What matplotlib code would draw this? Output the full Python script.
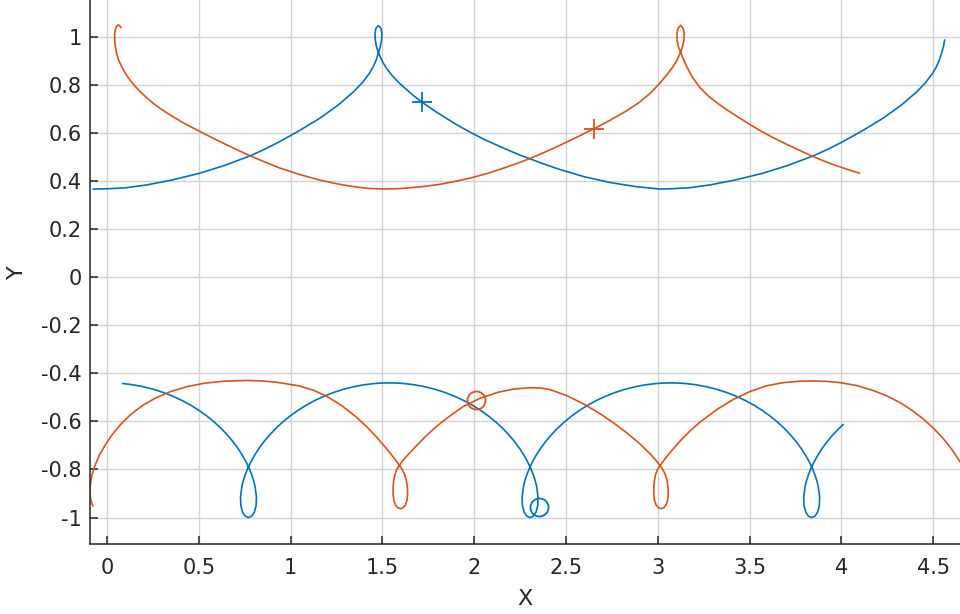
import matplotlib
matplotlib.use("Agg")
import matplotlib.pyplot as plt

# upper paths (blue and orange)
top_blue_x = [-0.075, 0.0, 0.1, 0.216, 0.35, 0.501, 0.64, 0.779, 0.86, 0.942, 1.05, 1.16, 1.26, 1.342,
              1.39, 1.427, 1.45, 1.466, 1.478,
              1.488, 1.495, 1.497, 1.492, 1.478, 1.464, 1.459, 1.461, 1.467, 1.478,
              1.49, 1.505, 1.523, 1.545, 1.568, 1.59, 1.614, 1.665, 1.717, 1.8, 1.886, 1.94, 1.999,
              2.05, 2.104, 2.175, 2.249, 2.32, 2.39, 2.467, 2.6, 2.74, 2.88, 3.012,
              3.068, 3.168, 3.284, 3.418, 3.569, 3.708, 3.847, 3.928, 4.01, 4.118, 4.228, 4.328,
              4.41, 4.458, 4.495, 4.518, 4.534, 4.546, 4.556, 4.562]
top_blue_y = [0.366, 0.367, 0.371, 0.383, 0.403, 0.431, 0.464, 0.504, 0.532, 0.564, 0.61, 0.661, 0.716,
              0.77, 0.808, 0.845, 0.875, 0.903, 0.933,
              0.958, 0.985, 1.012, 1.034, 1.046, 1.034, 1.012, 0.985, 0.958, 0.933,
              0.912, 0.889, 0.867, 0.845, 0.825, 0.808, 0.791, 0.757, 0.726, 0.683, 0.642, 0.618,
              0.594, 0.574, 0.555, 0.531, 0.507, 0.487, 0.467, 0.447, 0.417, 0.393, 0.376, 0.366,
              0.367, 0.371, 0.383, 0.403, 0.431, 0.464, 0.504, 0.532, 0.564, 0.61, 0.661, 0.716,
              0.77, 0.808, 0.845, 0.875, 0.903, 0.933, 0.958, 0.985]

top_orange_x = [0.074, 0.068, 0.06, 0.051, 0.045, 0.041, 0.041, 0.045, 0.052, 0.062, 0.08, 0.1, 0.125,
                0.15, 0.18, 0.215, 0.252, 0.295, 0.343, 0.42, 0.501, 0.555, 0.615, 0.7, 0.779, 0.86,
                0.942, 1.05, 1.16, 1.25, 1.342, 1.42, 1.505, 1.6, 1.705, 1.8, 1.886, 1.98, 2.068,
                2.16, 2.249, 2.32, 2.395, 2.467, 2.56, 2.653, 2.745, 2.831, 2.9, 2.958, 3.005, 3.048,
                3.078, 3.103, 3.124,
                3.135, 3.142, 3.144, 3.138, 3.124, 3.11, 3.104, 3.105, 3.111, 3.124,
                3.135, 3.145, 3.157, 3.19, 3.23, 3.28, 3.339, 3.395, 3.448, 3.5, 3.557, 3.625,
                3.693, 3.76, 3.829, 3.9, 3.965, 4.035, 4.098]
top_orange_y = [1.038, 1.046, 1.048, 1.043, 1.03, 1.01, 0.985, 0.958, 0.93, 0.903, 0.874, 0.846, 0.819,
                0.795, 0.771, 0.746, 0.722, 0.698, 0.674, 0.639, 0.607, 0.586, 0.563, 0.532, 0.504,
                0.478, 0.453, 0.426, 0.403, 0.388, 0.376, 0.369, 0.366, 0.368, 0.375, 0.384, 0.396,
                0.412, 0.43, 0.453, 0.477, 0.498, 0.523, 0.548, 0.582, 0.617, 0.654, 0.692, 0.727,
                0.764, 0.801, 0.84, 0.87, 0.899, 0.935,
                0.96, 0.985, 1.012, 1.034, 1.047, 1.034, 1.012, 0.985, 0.96, 0.935,
                0.914, 0.896, 0.875, 0.829, 0.787, 0.7495, 0.715, 0.686, 0.66, 0.635, 0.609, 0.581,
                0.555, 0.531, 0.507, 0.484, 0.465, 0.447, 0.432]

# lower paths
low_blue_x = [0.0847, 0.1417, 0.198, 0.2532, 0.3069, 0.3589, 0.4091, 0.4568, 0.5022, 0.5448, 0.5845,
              0.6212, 0.6548, 0.6851, 0.7122, 0.7359, 0.7563, 0.7735, 0.7874, 0.7982, 0.806, 0.8135,
              0.8115, 0.802, 0.7873, 0.77, 0.7527, 0.738, 0.7285, 0.7265, 0.734, 0.7418, 0.7526,
              0.7665, 0.7837, 0.8041, 0.8278, 0.8549, 0.8852, 0.9188, 0.9555, 0.9952, 1.0378,
              1.0832, 1.1309, 1.1811, 1.2331, 1.2868, 1.342, 1.3983, 1.4553, 1.4956, 1.5369,
              1.5784, 1.6187, 1.6757, 1.732, 1.7872, 1.8409, 1.8929, 1.9431, 1.9908, 2.0362, 2.0788,
              2.1185, 2.1552, 2.1888, 2.2191, 2.2462, 2.2699, 2.2903, 2.3075, 2.3214, 2.3322, 2.34,
              2.3475, 2.3455, 2.336, 2.3213, 2.304, 2.2867, 2.272, 2.2625, 2.2605, 2.268, 2.2758,
              2.2866, 2.3005, 2.3177, 2.3381, 2.3618, 2.3889, 2.4192, 2.4528, 2.4895, 2.5292,
              2.5718, 2.6172, 2.6649, 2.7151, 2.7671, 2.8208, 2.876, 2.9323, 2.9893, 3.0296, 3.0709,
              3.1124, 3.1527, 3.2097, 3.266, 3.3212, 3.3749, 3.4269, 3.4771, 3.5248, 3.5702, 3.6128,
              3.6525, 3.6892, 3.7228, 3.7531, 3.7802, 3.8039, 3.8243, 3.8415, 3.8554, 3.8662, 3.874,
              3.8815, 3.8795, 3.87, 3.8553, 3.838, 3.8207, 3.806, 3.7965, 3.7945, 3.802, 3.8098,
              3.8206, 3.8345, 3.8517, 3.8721, 3.8958, 3.9229, 3.9532, 3.9868, 4.009]
low_blue_y = [-0.4428, -0.4481, -0.4562, -0.4669, -0.4801, -0.4957, -0.5135, -0.5334, -0.5552, -0.5787,
              -0.6035, -0.6295, -0.6564, -0.6839, -0.7118, -0.7398, -0.7676, -0.7949, -0.8215, -0.847,
              -0.8713, -0.9151, -0.9511, -0.9779, -0.9944, -1.0, -0.9944, -0.9779, -0.9511, -0.9151,
              -0.8713, -0.847, -0.8215, -0.7949, -0.7676, -0.7398, -0.7118, -0.6839, -0.6564, -0.6295,
              -0.6035, -0.5787, -0.5552, -0.5334, -0.5135, -0.4957, -0.4801, -0.4669, -0.4562,
              -0.4481, -0.4428, -0.4407, -0.44,
              -0.4407, -0.4428, -0.4481, -0.4562, -0.4669, -0.4801, -0.4957, -0.5135, -0.5334, -0.5552,
              -0.5787, -0.6035, -0.6295, -0.6564, -0.6839, -0.7118, -0.7398, -0.7676, -0.7949, -0.8215,
              -0.847, -0.8713, -0.9151, -0.9511, -0.9779, -0.9944, -1.0, -0.9944, -0.9779, -0.9511,
              -0.9151, -0.8713, -0.847, -0.8215, -0.7949, -0.7676, -0.7398, -0.7118, -0.6839, -0.6564,
              -0.6295, -0.6035, -0.5787, -0.5552, -0.5334, -0.5135, -0.4957, -0.4801, -0.4669,
              -0.4562, -0.4481, -0.4428, -0.4407, -0.44,
              -0.4407, -0.4428, -0.4481, -0.4562, -0.4669, -0.4801, -0.4957, -0.5135, -0.5334, -0.5552,
              -0.5787, -0.6035, -0.6295, -0.6564, -0.6839, -0.7118, -0.7398, -0.7676, -0.7949, -0.8215,
              -0.847, -0.8713, -0.9151, -0.9511, -0.9779, -0.9944, -1.0, -0.9944, -0.9779, -0.9511,
              -0.9151, -0.8713, -0.847, -0.8215, -0.7949, -0.7676, -0.7398, -0.7118, -0.6839, -0.6564,
              -0.6295, -0.614]

low_orange_x = [-0.078, -0.087, -0.093, -0.093, -0.089, -0.08, -0.065, -0.042, -0.011, 0.026, 0.071,
                0.125, 0.189, 0.261, 0.343, 0.434, 0.525, 0.634, 0.761, 0.84, 0.92, 1.042, 1.124,
                1.196, 1.278, 1.36, 1.414, 1.469, 1.532, 1.566, 1.592,
                1.607, 1.62, 1.63, 1.636, 1.637, 1.633, 1.624, 1.611, 1.597, 1.583, 1.57, 1.562,
                1.558, 1.558, 1.561, 1.567, 1.577, 1.592,
                1.607, 1.625, 1.65, 1.687, 1.741, 1.796, 1.868, 1.941, 2.032, 2.13, 2.213, 2.304,
                2.36, 2.413, 2.504, 2.594, 2.685, 2.758, 2.831, 2.903, 2.958, 2.994, 3.012,
                3.027, 3.04, 3.05, 3.056, 3.057, 3.053, 3.044, 3.031, 3.017, 3.003, 2.99, 2.982,
                2.978, 2.978, 2.981, 2.987, 2.997, 3.012,
                3.028, 3.045, 3.075, 3.121, 3.175, 3.23, 3.321, 3.411, 3.502, 3.593, 3.683, 3.775,
                3.85, 3.92, 3.992, 4.083, 4.174, 4.247, 4.319, 4.383, 4.446, 4.501, 4.555, 4.601,
                4.646]
low_orange_y = [-0.951, -0.934, -0.906, -0.879, -0.851, -0.816, -0.782, -0.74, -0.699, -0.657, -0.615,
                -0.574, -0.536, -0.504, -0.477, -0.456, -0.442, -0.433, -0.43, -0.432, -0.437, -0.452,
                -0.4705, -0.4956, -0.5344, -0.5838, -0.6222, -0.6662, -0.7225, -0.7555, -0.783,
                -0.8, -0.82, -0.845, -0.875, -0.905, -0.93, -0.949, -0.96, -0.963, -0.959, -0.947,
                -0.928, -0.903, -0.875, -0.848, -0.823, -0.802, -0.783,
                -0.767, -0.75, -0.73, -0.7, -0.658, -0.62, -0.577, -0.538, -0.504, -0.479, -0.466,
                -0.46, -0.4615, -0.468, -0.493, -0.527, -0.568, -0.606, -0.648, -0.694, -0.735,
                -0.766, -0.784,
                -0.8, -0.82, -0.845, -0.875, -0.905, -0.93, -0.949, -0.96, -0.963, -0.959, -0.947,
                -0.928, -0.903, -0.875, -0.848, -0.823, -0.802, -0.784,
                -0.767, -0.75, -0.722, -0.682, -0.64, -0.603, -0.551, -0.509, -0.476, -0.452, -0.439,
                -0.433, -0.432, -0.434, -0.439, -0.451, -0.472, -0.494, -0.522, -0.553, -0.59,
                -0.628, -0.672, -0.716, -0.768]

# current positions
plus_blue = (1.717, 0.726)
plus_orange = (2.653, 0.617)
circ_orange = (2.012, -0.511)
circ_blue = (2.352, -0.958)

xticks = [0, 0.5, 1, 1.5, 2, 2.5, 3, 3.5, 4, 4.5]
xticklabels = ['0', '0.5', '1', '1.5', '2', '2.5', '3', '3.5', '4', '4.5']
yticks = [-1, -0.8, -0.6, -0.4, -0.2, 0, 0.2, 0.4, 0.6, 0.8, 1]
yticklabels = ['-1', '-0.8', '-0.6', '-0.4', '-0.2', '0', '0.2', '0.4', '0.6', '0.8', '1']

BLUE = '#0072BD'
ORANGE = '#D95319'
DARK = '#262626'

fig = plt.figure(figsize=(9.6, 6.14), dpi=100)
ax = fig.add_axes([0.0938, 0.114, 0.9062, 0.886])

lw = 1.2
ax.plot(top_blue_x, top_blue_y, color=BLUE, lw=lw)
ax.plot(top_orange_x, top_orange_y, color=ORANGE, lw=lw)
ax.plot(low_blue_x, low_blue_y, color=BLUE, lw=lw)
ax.plot(low_orange_x, low_orange_y, color=ORANGE, lw=lw)

ax.plot(*plus_blue, marker='+', color=BLUE, ms=15, mew=1.3)
ax.plot(*plus_orange, marker='+', color=ORANGE, ms=15, mew=1.3)
ax.plot(*circ_orange, marker='o', mfc='none', mec=ORANGE, ms=13, mew=1.3)
ax.plot(*circ_blue, marker='o', mfc='none', mec=BLUE, ms=13, mew=1.3)

ax.set_xlim(-0.093, 4.646)
ax.set_ylim(-1.11, 1.152)
ax.set_xticks(xticks)
ax.set_xticklabels(xticklabels)
ax.set_yticks(yticks)
ax.set_yticklabels(yticklabels)

ax.grid(True, color='#d2d2d2', lw=1.0)
ax.set_axisbelow(True)
for s in ['top', 'right']:
    ax.spines[s].set_visible(False)
for s in ['left', 'bottom']:
    ax.spines[s].set_color(DARK)
    ax.spines[s].set_linewidth(1.1)
ax.tick_params(direction='in', length=6, width=1.1, color=DARK, labelcolor=DARK, labelsize=15)
ax.tick_params(axis='x', pad=10)
ax.tick_params(axis='y', pad=6)

ax.set_xlabel('X', fontsize=16, color=DARK, labelpad=8)
ax.set_ylabel('Y', fontsize=16, color=DARK, labelpad=10)

fig.savefig('out.png', dpi=100)
